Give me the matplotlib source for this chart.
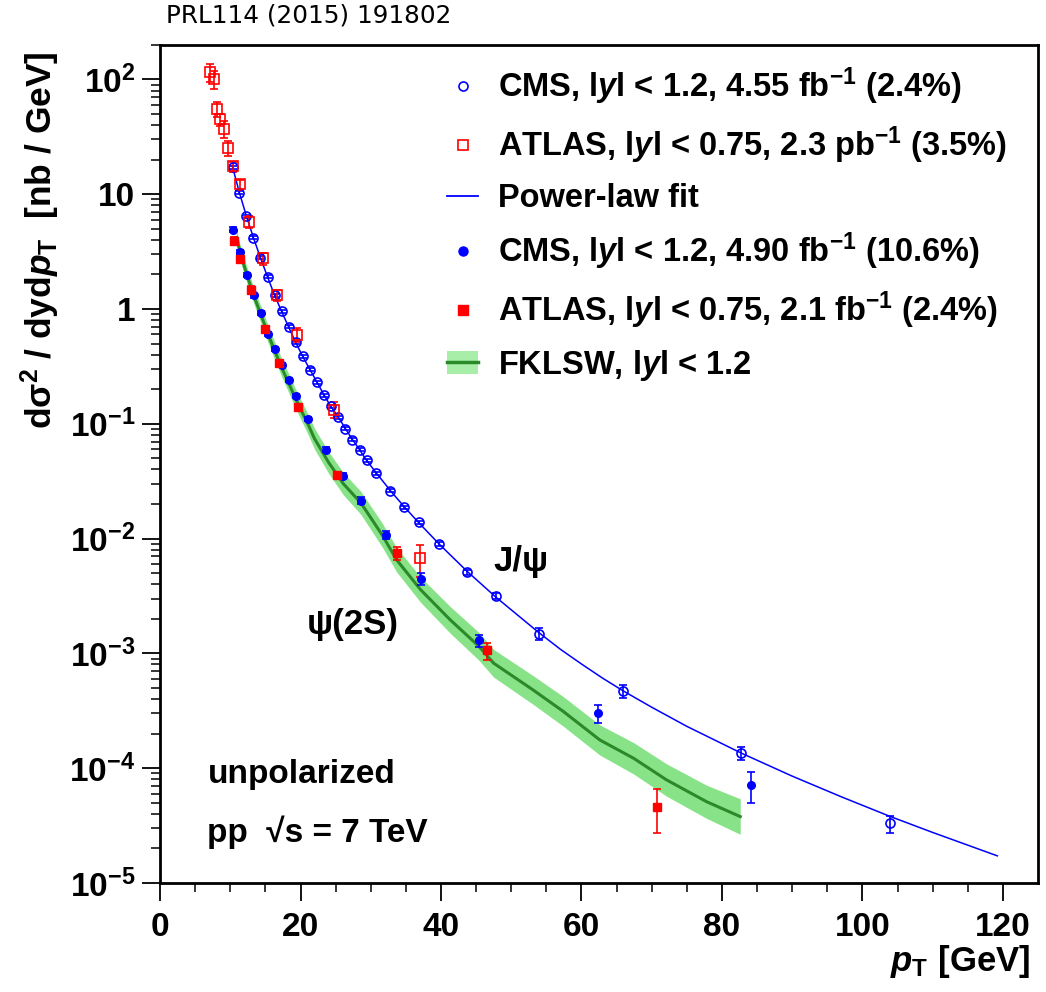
import numpy as np
import matplotlib
matplotlib.use("Agg")
import matplotlib.pyplot as plt
from matplotlib.lines import Line2D
from matplotlib.patches import Patch

plt.rcParams['font.family'] = ['Liberation Sans', 'DejaVu Sans']
plt.rcParams['font.weight'] = 'bold'
plt.rcParams['mathtext.fontset'] = 'custom'
plt.rcParams['mathtext.rm'] = 'Liberation Sans:bold'
plt.rcParams['mathtext.bf'] = 'Liberation Sans:bold'
plt.rcParams['mathtext.sf'] = 'Liberation Sans:bold'
plt.rcParams['mathtext.it'] = 'Liberation Sans:bold:italic'

# J/psi, CMS 4.55 fb-1 (open circles)
cms_jpsi_pt = [10.35, 11.3, 12.3, 13.3, 14.3, 15.3, 16.3, 17.3, 18.3, 19.3, 20.3, 21.35,
               22.35, 23.35, 24.3, 25.4, 26.4, 27.4, 28.4, 29.4, 30.8, 32.8, 34.8, 36.8,
               39.7, 43.7, 47.8, 53.9, 65.9, 82.7, 103.9]
cms_jpsi_y = [17.1, 10.3, 6.43, 4.17, 2.79, 1.905, 1.32, 0.955, 0.697, 0.513, 0.387, 0.296,
              0.230, 0.178, 0.142, 0.1138, 0.0906, 0.0727, 0.0594, 0.048, 0.0372, 0.0261,
              0.0188, 0.0138, 0.0090, 0.00508, 0.00314, 0.00148, 4.71e-4, 1.35e-4, 3.3e-5]
cms_jpsi_rel = [0.03] * 24 + [0.04, 0.05, 0.06, 0.12, 0.13, 0.13, 0.17]

# J/psi, ATLAS 2.3 pb-1 (open squares)
atlas_jpsi_pt = [7.12, 7.64, 8.11, 8.59, 9.07, 9.64, 10.35, 11.4, 12.7, 14.7, 16.65, 19.5, 24.8, 37.0]
atlas_jpsi_y = [115.8, 100.0, 55.6, 44.8, 37.1, 25.4, 17.5, 12.2, 5.78, 2.77, 1.31, 0.598, 0.1327, 6.76e-3]
atlas_jpsi_rel = [0.18, 0.18, 0.15, 0.12, 0.16, 0.15, 0.10, 0.10, 0.12, 0.12, 0.11, 0.13, 0.16, 0.31]

# power-law fit curve
fit_pt = [10.3, 11.3, 12.3, 13.3, 14.3, 15.3, 16.3, 17.3, 18.3, 19.3, 20.3, 21.35, 22.35,
          23.35, 24.3, 25.4, 26.4, 27.4, 28.4, 29.4, 30.8, 32.8, 34.8, 36.8, 39.7, 43.7,
          47.8, 53.9, 57.0, 60.0, 63.0, 65.9, 70.0, 75.0, 82.7, 90.0, 97.0, 103.9, 110.0, 119.2]
fit_y = [17.5, 10.3, 6.43, 4.17, 2.79, 1.905, 1.32, 0.955, 0.697, 0.513, 0.387, 0.296, 0.230,
         0.178, 0.142, 0.1138, 0.0906, 0.0727, 0.0594, 0.048, 0.0372, 0.0261, 0.0188, 0.0138,
         0.0090, 0.00519, 0.00309, 0.00152, 1.084e-3, 8.07e-4, 6.08e-4, 4.72e-4, 3.39e-4,
         2.31e-4, 1.355e-4, 8.51e-5, 5.62e-5, 3.80e-5, 2.75e-5, 1.72e-5]

# psi(2S), CMS 4.90 fb-1 (filled circles)
cms_psi_pt = [10.35, 11.4, 12.4, 13.4, 14.4, 15.4, 16.4, 17.4, 18.4, 19.4, 21.1, 23.6,
              26.0, 28.6, 32.1, 37.1, 45.4, 62.3, 84.1]
cms_psi_y = [4.92, 3.12, 1.98, 1.31, 0.925, 0.611, 0.449, 0.326, 0.239, 0.173, 0.1106, 0.0594,
             0.0348, 0.0214, 0.0108, 4.43e-3, 1.30e-3, 3.01e-4, 7.14e-5]
cms_psi_rel = [0.05, 0.04, 0.04, 0.04, 0.04, 0.04, 0.04, 0.04, 0.04, 0.04, 0.04, 0.05,
               0.06, 0.07, 0.08, 0.12, 0.12, 0.18, 0.30]

# psi(2S), ATLAS 2.1 fb-1 (filled squares)
atlas_psi_pt = [10.5, 11.4, 12.9, 14.95, 16.9, 19.7, 25.15, 33.7, 46.6, 70.7]
atlas_psi_y = [3.89, 2.70, 1.476, 0.670, 0.339, 0.140, 0.0355, 7.46e-3, 1.06e-3, 4.62e-5]
atlas_psi_rel = [0.08, 0.07, 0.07, 0.06, 0.06, 0.06, 0.06, 0.12, 0.17, 0.41]

# FKLSW prediction band
fk_pt = [10.9, 11.4, 12.4, 13.4, 14.4, 15.4, 16.4, 17.4, 18.4, 19.4, 21.1, 22.0, 24.0,
         26.1, 28.6, 31.6, 33.7, 37.1, 41.3, 45.4, 47.5, 53.1, 57.4, 62.6, 67.4, 72.1,
         77.8, 82.6]
fk_y = [4.2, 3.1, 1.95, 1.28, 0.88, 0.60, 0.42, 0.30, 0.22, 0.16, 0.098, 0.074, 0.046,
        0.030, 0.0204, 0.0108, 6.5e-3, 3.58e-3, 1.96e-3, 1.15e-3, 8.2e-4, 4.8e-4, 3.12e-4,
        1.76e-4, 1.22e-4, 7.9e-5, 5.1e-5, 3.78e-5]
fk_lo = [3.6, 2.65, 1.66, 1.09, 0.745, 0.505, 0.352, 0.250, 0.182, 0.132, 0.080, 0.060, 0.037,
         0.0240, 0.0162, 8.5e-3, 5.1e-3, 2.78e-3, 1.50e-3, 8.7e-4, 6.2e-4, 3.6e-4, 2.32e-4,
         1.30e-4, 8.9e-5, 5.7e-5, 3.65e-5, 2.65e-5]
fk_hi = [4.9, 3.62, 2.29, 1.50, 1.04, 0.713, 0.501, 0.360, 0.266, 0.194, 0.120, 0.091, 0.057,
         0.0375, 0.0257, 0.0137, 8.3e-3, 4.61e-3, 2.56e-3, 1.52e-3, 1.08e-3, 6.4e-4, 4.2e-4,
         2.38e-4, 1.67e-4, 1.09e-4, 7.1e-5, 5.4e-5]

blue = '#0000ff'
red = '#ff0000'
band_col = '#88e388'
line_col = '#2a8a2a'


def yerr(vals, rel):
    v = np.array(vals)
    return v * np.array(rel)


fig = plt.figure(figsize=(10.46, 9.92), dpi=100)
ax = fig.add_axes([0.153, 0.110, 0.8394, 0.8448])

ax.fill_between(fk_pt, fk_lo, fk_hi, color=band_col, lw=0, zorder=1)
ax.plot(fk_pt, fk_y, color=line_col, lw=2.2, zorder=2)
ax.plot(fit_pt, fit_y, color=blue, lw=1.1, zorder=3)

eb = dict(ls='none', capsize=3, elinewidth=1.2, capthick=1.2, zorder=4)
ax.errorbar(cms_jpsi_pt, cms_jpsi_y, yerr=yerr(cms_jpsi_y, cms_jpsi_rel), fmt='o', ms=6.5,
            mfc='none', mec=blue, mew=1.2, color=blue, **eb)
ax.errorbar(atlas_jpsi_pt, atlas_jpsi_y, yerr=yerr(atlas_jpsi_y, atlas_jpsi_rel), fmt='s', ms=6.5,
            mfc='none', mec=red, mew=1.2, color=red, **eb)
ax.errorbar(cms_psi_pt, cms_psi_y, yerr=yerr(cms_psi_y, cms_psi_rel), fmt='o', ms=5.5,
            mfc=blue, mec=blue, color=blue, **eb)
ax.errorbar(atlas_psi_pt, atlas_psi_y, yerr=yerr(atlas_psi_y, atlas_psi_rel), fmt='s', ms=5.5,
            mfc=red, mec=red, color=red, **eb)

ax.set_yscale('log')
ax.set_xlim(0, 125)
ax.set_ylim(1e-5, 200)
ax.set_xticks(np.arange(0, 121, 20))
ax.set_xticks(np.arange(0, 125, 5), minor=True)
ax.set_yticks([1e-5, 1e-4, 1e-3, 1e-2, 1e-1, 1, 10, 100])
ax.set_yticklabels(['$10^{-5}$', '$10^{-4}$', '$10^{-3}$', '$10^{-2}$', '$10^{-1}$', '1', '10', '$10^{2}$'])
ax.tick_params(axis='both', which='major', direction='out', length=13, width=1.3,
               labelsize=24, top=False, right=False)
ax.tick_params(axis='both', which='minor', direction='out', length=6.5, width=1.1,
               top=False, right=False)
ax.tick_params(axis='x', which='major', pad=8)
ax.tick_params(axis='y', which='major', pad=5)
for s in ax.spines.values():
    s.set_linewidth(2.0)

fig.text(40 / 1046, 1 - 240 / 992, 'd\u03c3$^{2}$ / dyd$\\mathit{p}_{\\mathrm{T}}$  [nb / GeV]',
         rotation=90, ha='center', va='center', fontsize=25.5)
fig.text(1030 / 1046, 1 - 962 / 992, '$\\mathit{p}_{\\mathrm{T}}$ [GeV]',
         ha='right', va='center', fontsize=25)
fig.text(166 / 1046, 1 - 16 / 992, 'PRL114 (2015) 191802', family='DejaVu Sans', weight='normal',
         ha='left', va='center', fontsize=17.8)

ax.text(0.411, 0.383, 'J/\u03c8', transform=ax.transAxes, ha='center', va='center', fontsize=25)
ax.text(0.219, 0.308, '\u03c8(2S)', transform=ax.transAxes, ha='center', va='center', fontsize=25)
ax.text(0.054, 0.129, 'unpolarized', transform=ax.transAxes, ha='left', va='center', fontsize=24)
ax.text(0.054, 0.061, 'pp  \u221as = 7 TeV', transform=ax.transAxes, ha='left', va='center', fontsize=24)

handles = [
    Line2D([], [], ls='none', marker='o', ms=6.5, mfc='none', mec=blue, mew=1.2),
    Line2D([], [], ls='none', marker='s', ms=6.5, mfc='none', mec=red, mew=1.2),
    Line2D([], [], color=blue, lw=1.3),
    Line2D([], [], ls='none', marker='o', ms=6.5, mfc=blue, mec=blue),
    Line2D([], [], ls='none', marker='s', ms=6.5, mfc=red, mec=red),
    (Patch(facecolor='#a8eea8', edgecolor='none'), Line2D([], [], color=line_col, lw=2.5)),
]
labels = [
    'CMS, l$\\mathit{y}$l < 1.2, 4.55 fb$^{-1}$ (2.4%)',
    'ATLAS, l$\\mathit{y}$l < 0.75, 2.3 pb$^{-1}$ (3.5%)',
    'Power-law fit',
    'CMS, l$\\mathit{y}$l < 1.2, 4.90 fb$^{-1}$ (10.6%)',
    'ATLAS, l$\\mathit{y}$l < 0.75, 2.1 fb$^{-1}$ (2.4%)',
    'FKLSW, l$\\mathit{y}$l < 1.2',
]
leg = fig.legend(handles, labels, loc='upper left', bbox_to_anchor=(447 / 1046, 1 - 66 / 992),
                 frameon=False, fontsize=23.5, handlelength=0.95, handletextpad=0.6,
                 labelspacing=0.52, borderpad=0, borderaxespad=0)

fig.savefig('out.png', dpi=100)
